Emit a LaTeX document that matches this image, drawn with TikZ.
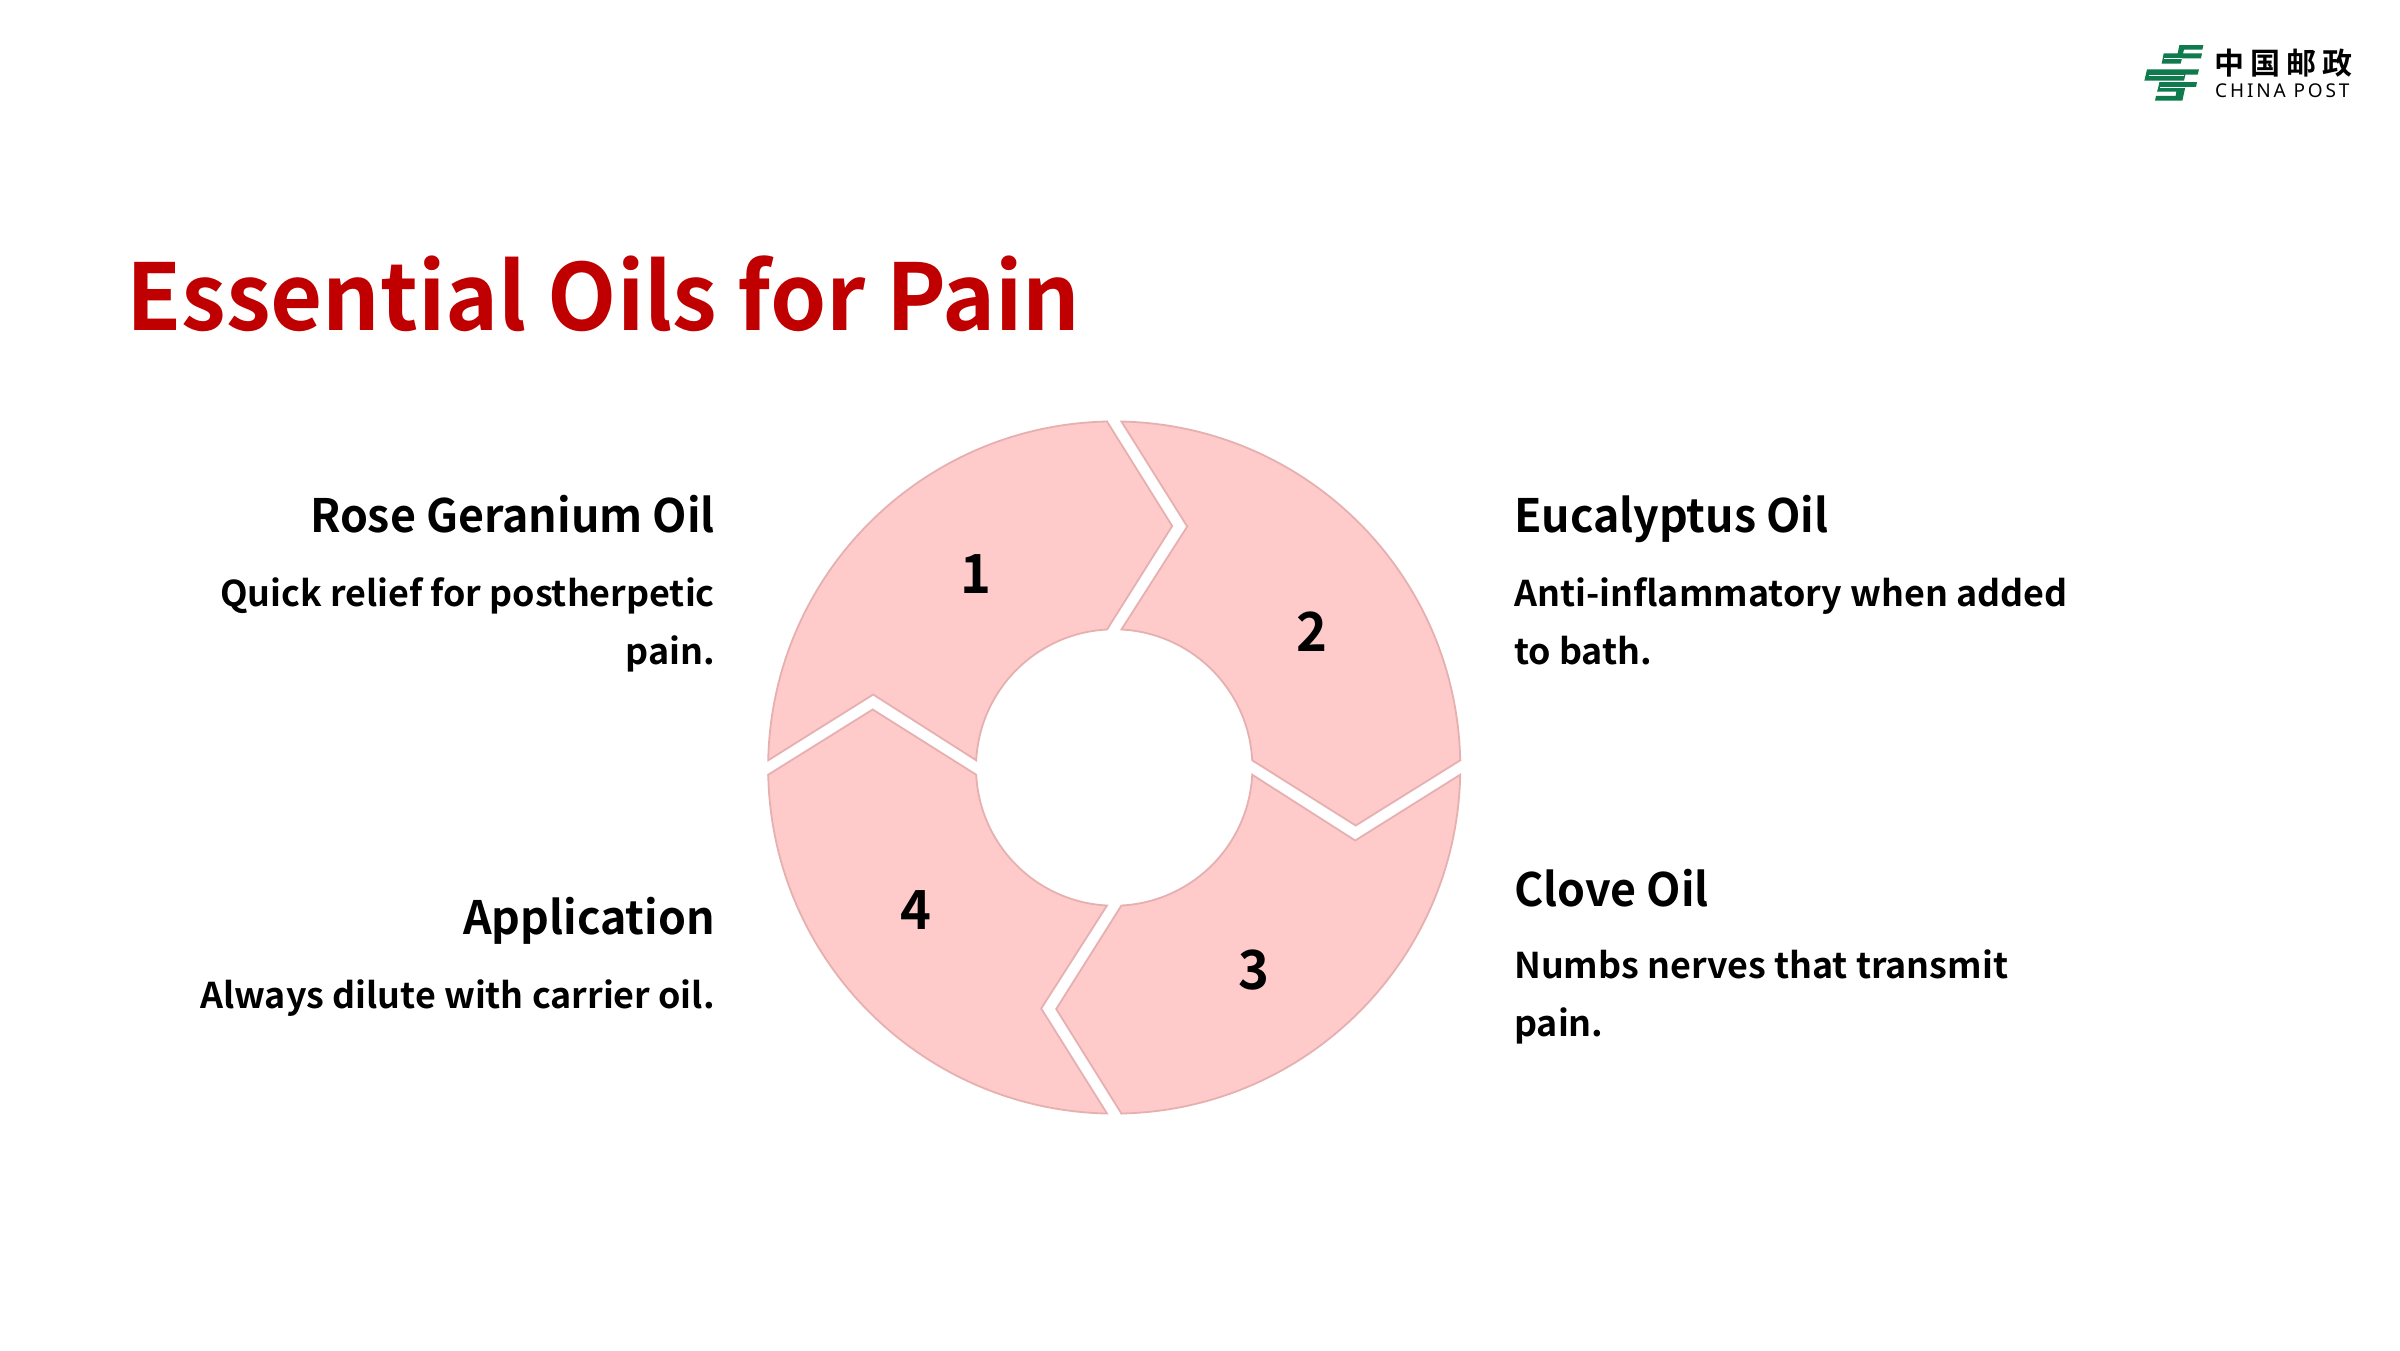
\documentclass[tikz,border=0pt]{standalone}
\usepackage{fontspec}
\setmainfont{Noto Sans CJK SC}
\newfontfamily\titlefam[FakeStretch=0.978]{Noto Sans CJK SC Bold}
\newfontfamily\headfam[FakeStretch=0.972]{Noto Sans CJK SC Bold}
\newfontfamily\bodyfam[FakeStretch=1.01]{Noto Sans CJK SC Bold}
\newfontfamily\numfam[FakeStretch=0.97]{Noto Sans CJK SC Bold}
\newfontfamily\logolatin[LetterSpace=15]{Noto Sans}
\newfontfamily\logocjk[LetterSpace=20]{Noto Sans CJK SC Bold}
\definecolor{segfill}{HTML}{FECACA}
\definecolor{segline}{HTML}{E6B0B0}
\definecolor{titlered}{HTML}{C00000}
\definecolor{postgreen}{HTML}{0E7A4E}
\tikzset{
  x=1pt,y=1pt,
  seg/.style={fill=segfill,draw=segline,line width=1.8pt,line join=miter},
  titletext/.style={inner sep=0,anchor=base west,text=titlered,font=\titlefam\fontsize{92}{110}\selectfont},
  headr/.style={inner sep=0,anchor=base east,font=\headfam\fontsize{46}{58}\selectfont},
  headl/.style={inner sep=0,anchor=base west,font=\headfam\fontsize{46}{58}\selectfont},
  bodyr/.style={inner sep=0,anchor=base east,text width=640pt,align=flush right,font=\bodyfam\fontsize{35.5}{58}\selectfont},
  bodyl/.style={inner sep=0,anchor=base west,text width=640pt,align=flush left,font=\bodyfam\fontsize{35.5}{58}\selectfont},
  numtext/.style={inner sep=0,anchor=base,font=\numfam\fontsize{54}{60}\selectfont},
  logobar/.style={fill=postgreen,draw=none},
}
\begin{document}
\begin{tikzpicture}
\useasboundingbox[fill=white] (0,0) rectangle (2400,-1350);
\foreach \k in {0,1,2,3}{
  \begin{scope}[shift={(1114.2,-767.5)},rotate=-90*\k]
    \path[seg] (-7.2,346) -- (58,241.5) -- (-7.2,138)
      arc[start angle=92.99,end angle=177.01,radius=138.19]
      -- (-241,73) -- (-346,7.2)
      arc[start angle=178.81,end angle=91.19,radius=346.07] -- cycle;
  \end{scope}
}
\node[numtext] (n1) at (976,-593.5) {1};
\node[numtext] (n2) at (1312,-651) {2};
\node[numtext] (n3) at (1253.6,-989.5) {3};
\node[numtext] (n4) at (916,-929) {4};
\node[titletext] (title) at (126,-330) {Essential Oils for Pain};
\node[headr] (h1) at (715,-532.5) {Rose Geranium Oil};
\node[bodyr] (b1) at (715,-606.5) {Quick relief for postherpetic\\pain.};
\node[headr] (h4) at (715,-934.5) {Application};
\node[bodyr] (b4) at (715,-1008.5) {Always dilute with carrier oil.};
\node[headl] (h2) at (1514,-532.5) {Eucalyptus Oil};
\node[bodyl] (b2) at (1514,-606.5) {Anti-inflammatory when added\\to bath.};
\node[headl] (h3) at (1514,-906.5) {Clove Oil};
\node[bodyl] (b3) at (1514,-978) {Numbs nerves that transmit\\pain.};
\begin{scope}[shift={(2135,-35)},x=0.3333pt,y=-0.3333pt]
  \fill[logobar] (133,30)--(205,30)--(202,44)--(147,44)--(144,55)--(201,55)--(198,70)--(141,70)--(137,86)--(80,86)--(86,55)--(128,55)--cycle;
  \fill[logobar] (36,103)--(192,103)--(188,119)--(151,119)--(147,137)--(28,137)--cycle;
  \fill[logobar] (73,141)--(186,141)--(183,156)--(151,156)--(142,197)--(60,197)--(63,183)--(122,183)--(124,170)--(66,170)--(70,156)--cycle;
  \draw[white,line width=0.9pt] (88,70)--(140,70) (42,120)--(148,120) (76,156)--(150,156);
\end{scope}
\node[inner sep=0,anchor=base west,font=\logocjk\fontsize{30}{34}\selectfont] (logoz) at (2214,-74) {中国邮政};
\node[inner sep=0,anchor=base west,font=\logolatin\fontsize{19}{22}\selectfont] (logoe) at (2215,-97) {CHINA POST};
\end{tikzpicture}
\end{document}
